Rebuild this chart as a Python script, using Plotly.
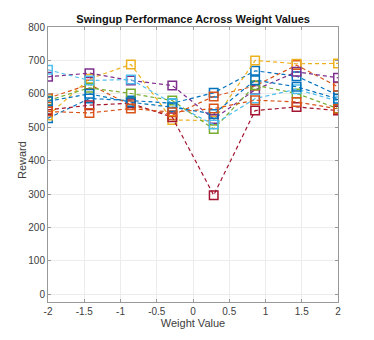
import plotly.graph_objects as go

# weight values (linspace(-2, 2, 8))
weights = [-2, -1.4286, -0.8571, -0.2857, 0.2857, 0.8571, 1.4286, 2]

# reward per run
run1 = [527, 586, 580, 572, 603, 669, 653, 596]
run2 = [587, 628, 566, 536, 592, 624, 686, 621]
run3 = [535, 645, 688, 522, 520, 700, 690, 691]
run4 = [651, 662, 640, 625, 525, 612, 666, 648]
run5 = [580, 618, 601, 580, 495, 626, 601, 556]
run6 = [672, 640, 643, 572, 508, 586, 614, 578]
run7 = [552, 566, 572, 530, 297, 550, 561, 550]
run8 = [578, 600, 575, 560, 540, 641, 621, 585]
run9 = [547, 543, 556, 545, 556, 581, 576, 555]

runs = [run1, run2, run3, run4, run5, run6, run7, run8, run9]

# tick labels (matlab uses a plain hyphen for minus)
xticks = [-2, -1.5, -1, -0.5, 0, 0.5, 1, 1.5, 2]
xtick_labels = ['-2', '-1.5', '-1', '-0.5', '0', '0.5', '1', '1.5', '2']
yticks = [0, 100, 200, 300, 400, 500, 600, 700, 800]

# matlab default colour order
colors = ['#0072BD', '#D95319', '#EDB120', '#7E2F8E', '#77AC30',
          '#4DBEEE', '#A2142F']

fig = go.Figure()
for i, r in enumerate(runs):
    fig.add_trace(go.Scatter(
        x=weights, y=r,
        mode='lines+markers',
        line=dict(color=colors[i % 7], width=1.2, dash='4px,3px'),
        marker=dict(symbol='square-open', size=8.5,
                    line=dict(color=colors[i % 7], width=1.5)),
        showlegend=False,
    ))

axis_style = dict(
    showline=True, mirror='allticks', linecolor='#999999', linewidth=1,
    ticks='inside', ticklen=3, tickcolor='#999999',
    showgrid=True, gridcolor='#ececec', gridwidth=1,
    zeroline=False, automargin=False,
    tickfont=dict(family='Liberation Sans, Arial', size=10, color='#404040'),
)

fig.update_xaxes(range=[-2, 2], tickvals=xticks, ticktext=xtick_labels,
                 title=dict(text='Weight Value', standoff=0,
                            font=dict(family='Liberation Sans, Arial', size=11, color='#404040')),
                 **axis_style)
fig.update_yaxes(range=[-22.7, 800], tickvals=yticks,
                 **axis_style)

# y title placed by hand, matlab puts it close to the tick labels
fig.add_annotation(text='Reward', textangle=-90, showarrow=False,
                   xref='paper', yref='paper', x=-0.09, y=0.516,
                   xanchor='center', yanchor='middle',
                   font=dict(family='Liberation Sans, Arial', size=11, color='#404040'))

fig.update_layout(
    width=374, height=340,
    margin=dict(l=40, r=44, t=19, b=46, autoexpand=False),
    paper_bgcolor='white', plot_bgcolor='white',
    title=dict(text='<b>Swingup Performance Across Weight Values</b>',
               x=0.495, xanchor='center', y=0.968, yanchor='middle',
               font=dict(family='Liberation Sans, Arial', size=11, color='#111111')),
)

fig.write_html("out.html")
